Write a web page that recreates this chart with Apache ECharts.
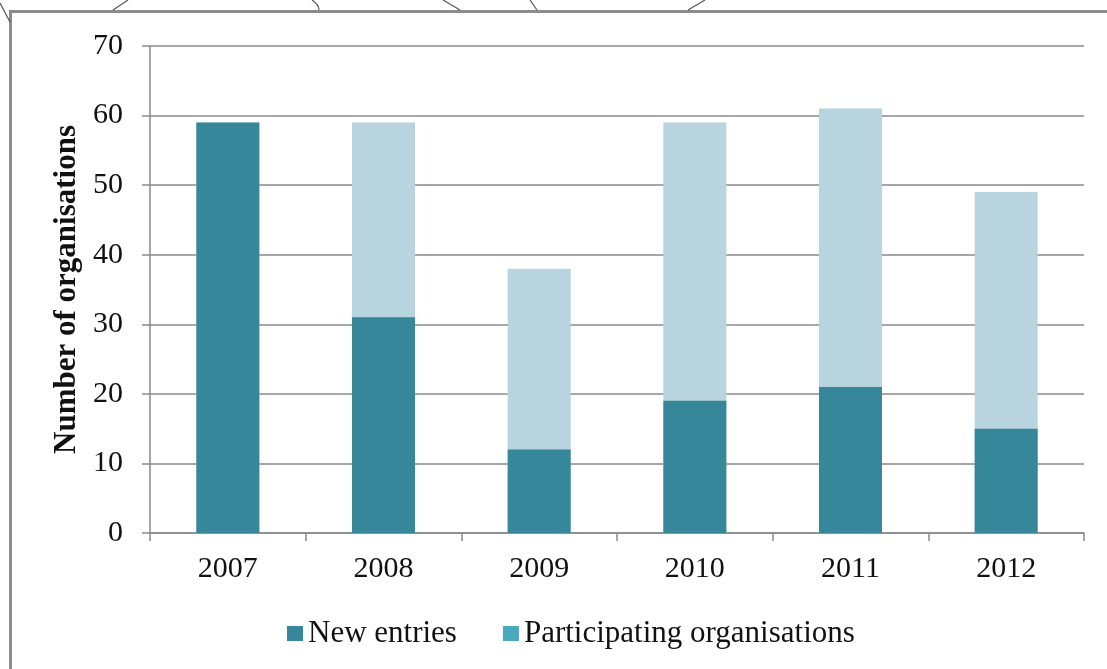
<!DOCTYPE html>
<html>
<head>
<meta charset="utf-8">
<script src="https://cdn.jsdelivr.net/npm/echarts@6/dist/echarts.min.js"></script>
<style>
html,body{margin:0;padding:0;background:#fff;}
#chart{width:1107px;height:669px;}
</style>
</head>
<body>
<div id="chart"></div>
<script>
const years = ['2007', '2008', '2009', '2010', '2011', '2012'];
const newEntries = [59, 31, 12, 19, 21, 15];
const participating = [59, 59, 38, 59, 61, 49];
const yTicks = [0, 10, 20, 30, 40, 50, 60, 70];

const FONT = '"Liberation Serif", "Times New Roman", serif';
const chart = echarts.init(document.getElementById('chart'));
chart.setOption({
  backgroundColor: '#ffffff',
  animation: false,
  grid: { left: 150, right: 23, top: 46, bottom: 136, containLabel: false },
  legend: {
    bottom: 20,
    left: 287,
    padding: 0,
    itemWidth: 16,
    itemHeight: 15,
    itemGap: 46,
    icon: 'rect',
    textStyle: { fontFamily: FONT, fontSize: 31, color: '#111' },
    data: [
      { name: 'New entries', itemStyle: { color: '#37879a' } },
      { name: 'Participating organisations', itemStyle: { color: '#4aa8bf' } }
    ]
  },
  xAxis: {
    type: 'category',
    data: years,
    axisLine: { lineStyle: { color: '#8a8a8a', width: 1.5 } },
    axisTick: { show: true, length: 8, alignWithLabel: false, lineStyle: { color: '#8a8a8a', width: 1.5 } },
    axisLabel: { fontFamily: FONT, fontSize: 30, color: '#111', margin: 21 }
  },
  yAxis: {
    type: 'value',
    min: yTicks[0],
    max: yTicks[yTicks.length - 1],
    interval: 10,
    name: 'Number of organisations',
    nameLocation: 'middle',
    nameGap: 65,
    nameTextStyle: { fontFamily: FONT, fontSize: 31, fontWeight: 'bold', color: '#111' },
    axisLine: { show: true, lineStyle: { color: '#8a8a8a', width: 1.5 } },
    axisTick: { show: true, length: 8, lineStyle: { color: '#8a8a8a', width: 1.5 } },
    axisLabel: { fontFamily: FONT, fontSize: 30, color: '#111', margin: 27 },
    splitLine: { show: true, lineStyle: { color: '#8a8a8a', width: 1.5 } }
  },
  series: [
    {
      name: 'Participating organisations',
      type: 'bar',
      data: participating,
      barWidth: 63,
      barGap: '-100%',
      itemStyle: { color: '#b7d4df' },
      z: 2
    },
    {
      name: 'New entries',
      type: 'bar',
      data: newEntries,
      barWidth: 63,
      barGap: '-100%',
      itemStyle: { color: '#37879a' },
      z: 3
    }
  ],
  graphic: [
    { type: 'rect', shape: { x: 10.5, y: 11.5, width: 1200, height: 800 }, style: { fill: 'none', stroke: '#8c8c8c', lineWidth: 3 }, silent: true },
    { type: 'line', shape: { x1: 0, y1: 3, x2: 10, y2: 22 }, style: { stroke: '#555', lineWidth: 1.2 } },
    { type: 'line', shape: { x1: 113, y1: 10, x2: 128, y2: 0 }, style: { stroke: '#555', lineWidth: 1.2 } },
    { type: 'bezierCurve', shape: { x1: 312, y1: 0, cpx1: 318, cpy1: 4, cpx2: 319, cpy2: 7, x2: 319, y2: 10 }, style: { stroke: '#555', lineWidth: 1.2, fill: 'none' } },
    { type: 'line', shape: { x1: 443, y1: 0, x2: 460, y2: 10 }, style: { stroke: '#555', lineWidth: 1.2 } },
    { type: 'line', shape: { x1: 530, y1: 0, x2: 537, y2: 10 }, style: { stroke: '#555', lineWidth: 1.2 } },
    { type: 'line', shape: { x1: 688, y1: 10, x2: 705, y2: 0 }, style: { stroke: '#555', lineWidth: 1.2 } }
  ]
});
</script>
</body>
</html>
